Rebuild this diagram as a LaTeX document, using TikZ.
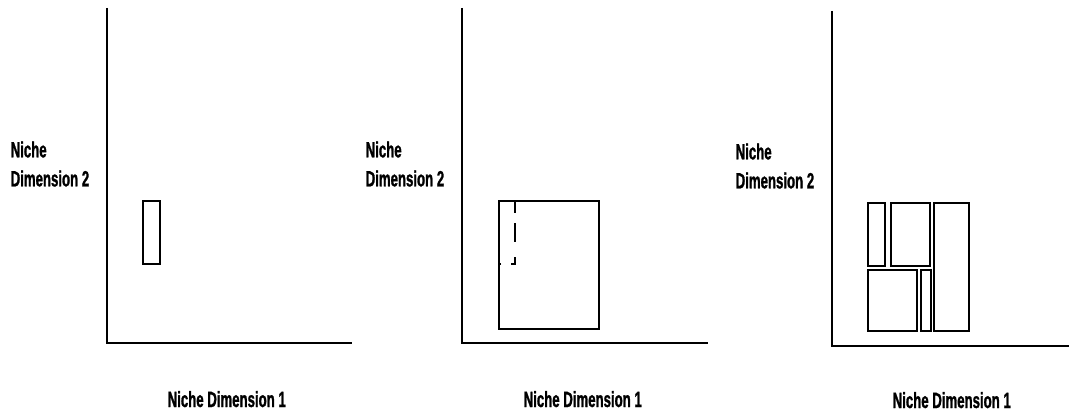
\documentclass[tikz,border=0pt]{standalone}
\usepackage{fontspec}
\newfontfamily\nichefont[FakeStretch=0.6,FakeBold=1.2,UprightFont={* Bold}]{Liberation Sans}
\usetikzlibrary{positioning}

\begin{document}
\begin{tikzpicture}[
    x = 1pt, y = -1pt, % pixel grid, y runs downwards
    line width = 1.4pt % line style
]
\tikzstyle{axis}=[
    draw = black,
    line width = 1.4pt
]
\tikzstyle{niche}=[
    draw = black,
    line width = 1.3pt
]
\tikzstyle{overlap}=[
    draw = black,
    line width = 1.3pt,
    dash pattern = on 12pt off 10pt on 19pt off 15pt on 11pt off 10pt
]
\tikzstyle{lbl}=[
    font = \nichefont\fontsize{22}{29}\selectfont,
    inner sep = 0pt,
    align = left
]

\useasboundingbox (0,0) rectangle (1069,412);

% first panel: one narrow niche
\coordinate (topA) at (107,8);
\coordinate (origA) at (107,343);
\coordinate (endA) at (352,343);
\draw[axis] (topA) -- (origA) -- (endA);
\draw[niche] (143,201) rectangle (160,264);
\node[lbl, anchor = west] (dimtwoA) at (10,164) {Niche\\Dimension 2};
\node[lbl, anchor = base west] (dimoneA) at (167,407) {Niche Dimension 1};

% second panel: broad niche with the old one inside
\coordinate (topB) at (462,8);
\coordinate (origB) at (462,343);
\coordinate (endB) at (708,343);
\draw[axis] (topB) -- (origB) -- (endB);
\draw[niche] (499,201) rectangle (599,329);
\draw[overlap] (515,201) -- (515,264) -- (499,264);
\node[lbl, anchor = west] (dimtwoB) at (365,164) {Niche\\Dimension 2};
\node[lbl, anchor = base west] (dimoneB) at (523,407) {Niche Dimension 1};

% third panel: niche space split up
\coordinate (topC) at (832,11);
\coordinate (origC) at (832,346);
\coordinate (endC) at (1069,346);
\draw[axis] (topC) -- (origC) -- (endC);
\draw[niche] (868,203) rectangle (885,266);
\draw[niche] (891,203) rectangle (930,266);
\draw[niche] (934,203) rectangle (969,331);
\draw[niche] (868,270) rectangle (917,331);
\draw[niche] (921,270) rectangle (931,331);
\node[lbl, anchor = west] (dimtwoC) at (735,166) {Niche\\Dimension 2};
\node[lbl, anchor = base west] (dimoneC) at (892,408) {Niche Dimension 1};

\end{tikzpicture}
\end{document}
